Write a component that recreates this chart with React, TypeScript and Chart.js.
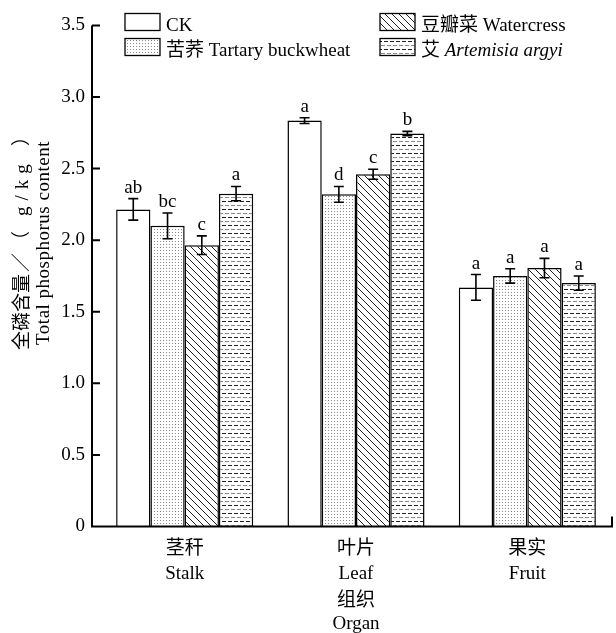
import React, { useEffect, useRef } from 'react';
import { Chart, registerables } from 'chart.js';

Chart.register(...registerables);

const SERIF = "'Liberation Serif', 'Times New Roman', 'Noto Sans CJK SC', serif";

// ---- data ----
const categories = [['茎秆', 'Stalk'], ['叶片', 'Leaf'], ['果实', 'Fruit']];
const seriesNames = ['CK', '苦荞 Tartary buckwheat', '豆瓣菜 Watercress', '艾 Artemisia argyi'];
const ckValues = [2.215, 2.835, 1.67];
const buckwheatValues = [2.1, 2.32, 1.75];
const watercressValues = [1.965, 2.46, 1.805];
const artemisiaValues = [2.325, 2.745, 1.7];
const ckErrors = [0.075, 0.02, 0.09];
const buckwheatErrors = [0.09, 0.055, 0.05];
const watercressErrors = [0.065, 0.035, 0.068];
const artemisiaErrors = [0.05, 0.015, 0.05];
const ckLetters = ['ab', 'a', 'a'];
const buckwheatLetters = ['bc', 'd', 'a'];
const watercressLetters = ['c', 'c', 'a'];
const artemisiaLetters = ['a', 'b', 'a'];
const yTicks = [0, 0.5, 1.0, 1.5, 2.0, 2.5, 3.0, 3.5];
const yTitleParts = ['全磷含量', '／', '（', 'g/kg', '）'];
const yTitleEn = 'Total phosphorus content';
const xTitle = ['组织', 'Organ'];

const seriesValues = [ckValues, buckwheatValues, watercressValues, artemisiaValues];
const seriesErrors = [ckErrors, buckwheatErrors, watercressErrors, artemisiaErrors];
const seriesLetters = [ckLetters, buckwheatLetters, watercressLetters, artemisiaLetters];

function makePattern(kind: string): CanvasPattern | string {
  if (kind === 'white') return '#ffffff';
  const c = document.createElement('canvas');
  let w = 3, h = 3;
  if (kind === 'diag') { w = 7; h = 7; }
  if (kind === 'dash') { w = 6; h = 8; }
  c.width = w; c.height = h;
  const g = c.getContext('2d')!;
  g.fillStyle = '#fff';
  g.fillRect(0, 0, w, h);
  if (kind === 'dots') {
    g.fillStyle = '#8a8a8a';
    g.fillRect(1, 1, 1, 1);
  } else if (kind === 'diag') {
    g.strokeStyle = '#222';
    g.lineWidth = 1;
    for (const k of [-7, 0, 7]) {
      g.beginPath();
      g.moveTo(k, 0);
      g.lineTo(k + 7, 7);
      g.stroke();
    }
  } else if (kind === 'dash') {
    g.fillStyle = '#222';
    g.fillRect(0, 1, 4, 1);
    g.fillStyle = '#888';
    g.fillRect(3, 5, 4, 1);
    g.fillRect(0, 5, 1, 1);
  }
  return g.createPattern(c, 'repeat')!;
}

export default function App() {
  const ref = useRef<HTMLCanvasElement>(null);

  useEffect(() => {
    const canvas = ref.current!;
    const fills = [makePattern('white'), makePattern('dots'), makePattern('diag'), makePattern('dash')];

    const decor = {
      id: 'decor',
      afterDatasetsDraw(chart: any) {
        const ctx = chart.ctx as CanvasRenderingContext2D;
        const ys = chart.scales.y;
        ctx.save();
        ctx.strokeStyle = '#000';
        ctx.fillStyle = '#000';
        ctx.lineWidth = 1.6;
        ctx.font = `19px ${SERIF}`;
        ctx.textAlign = 'center';
        ctx.textBaseline = 'alphabetic';
        seriesValues.forEach((vals, i) => {
          const meta = chart.getDatasetMeta(i);
          meta.data.forEach((el: any, j: number) => {
            const x = el.x;
            const top = ys.getPixelForValue(vals[j] + seriesErrors[i][j]);
            const bot = ys.getPixelForValue(vals[j] - seriesErrors[i][j]);
            ctx.beginPath();
            ctx.moveTo(x, top); ctx.lineTo(x, bot);
            ctx.moveTo(x - 5, top); ctx.lineTo(x + 5, top);
            ctx.moveTo(x - 5, bot); ctx.lineTo(x + 5, bot);
            ctx.stroke();
            ctx.fillText(seriesLetters[i][j], x, top - 6);
          });
        });
        ctx.restore();
      },
      afterDraw(chart: any) {
        const ctx = chart.ctx as CanvasRenderingContext2D;
        const ys = chart.scales.y;
        const area = chart.chartArea;
        const axisX = area.left - 7;
        const y0 = ys.getPixelForValue(0);
        const yTop = ys.getPixelForValue(3.5);
        ctx.save();
        ctx.strokeStyle = '#000';
        ctx.lineWidth = 2;
        ctx.beginPath();
        ctx.moveTo(axisX, yTop); ctx.lineTo(axisX, y0 + 1);
        ctx.moveTo(axisX - 1, y0); ctx.lineTo(area.right - 1, y0);
        ctx.moveTo(area.right - 1, y0 + 1); ctx.lineTo(area.right - 1, y0 - 10);
        ys.ticks.forEach((t: any) => {
          const y = ys.getPixelForValue(t.value);
          ctx.moveTo(axisX, y); ctx.lineTo(axisX + 8, y);
        });
        ctx.stroke();

        // y title (Chinese line, drawn piecewise along the rotated axis)
        ctx.fillStyle = '#000';
        ctx.textBaseline = 'middle';
        ctx.save();
        ctx.translate(23, 350);
        ctx.rotate(-Math.PI / 2);
        ctx.textAlign = 'left';
        ctx.font = `19px ${SERIF}`;
        const offs = [0, 78, 100, 134, 204];
        yTitleParts.forEach((p, k) => {
          (ctx as any).letterSpacing = k === 3 ? '6px' : '0px';
          ctx.fillText(p, offs[k], 0);
        });
        (ctx as any).letterSpacing = '0px';
        ctx.restore();
        ctx.save();
        ctx.translate(44, 243);
        ctx.rotate(-Math.PI / 2);
        ctx.textAlign = 'center';
        ctx.font = `19px ${SERIF}`;
        (ctx as any).letterSpacing = '0.5px';
        ctx.fillText(yTitleEn, 0, 0);
        (ctx as any).letterSpacing = '0px';
        ctx.restore();

        // x title
        ctx.textAlign = 'center';
        const cx = chart.scales.x.getPixelForValue(1);
        ctx.font = `19px ${SERIF}`;
        ctx.fillText(xTitle[0], cx, 601);
        ctx.fillText(xTitle[1], cx, 624);

        // legend
        const boxes = [
          { x: 125, y: 13.5, text: 'CK', italic: '' },
          { x: 125, y: 38.5, text: '苦荞 Tartary buckwheat', italic: '' },
          { x: 380, y: 13.5, text: '豆瓣菜 Watercress', italic: '' },
          { x: 380, y: 38.5, text: '艾 ', italic: 'Artemisia argyi' },
        ];
        boxes.forEach((b, i) => {
          ctx.fillStyle = fills[i] as any;
          ctx.fillRect(b.x, b.y, 35, 17);
          ctx.lineWidth = 1.3;
          ctx.strokeStyle = '#000';
          ctx.strokeRect(b.x, b.y, 35, 17);
          ctx.fillStyle = '#000';
          ctx.textAlign = 'left';
          ctx.textBaseline = 'alphabetic';
          ctx.font = `19px ${SERIF}`;
          const tx = b.x + 41;
          const ty = b.y + 17;
          ctx.fillText(b.text, tx, ty);
          if (b.italic) {
            const w = ctx.measureText(b.text).width;
            ctx.font = `italic 19px ${SERIF}`;
            ctx.fillText(b.italic, tx + w, ty);
          }
        });
        ctx.restore();
      },
    };

    const chart = new Chart(canvas, {
      type: 'bar',
      data: {
        labels: categories,
        datasets: seriesNames.map((name, i) => ({
          label: name,
          data: seriesValues[i],
          backgroundColor: fills[i] as any,
          borderColor: '#000',
          borderWidth: 1.5,
          categoryPercentage: 0.8,
          barPercentage: 1.0,
        })),
      },
      options: {
        responsive: true,
        maintainAspectRatio: false,
        animation: false,
        layout: { padding: { top: 15, right: 3, left: 0, bottom: 0 } },
        plugins: { legend: { display: false }, tooltip: { enabled: false } },
        scales: {
          x: {
            grid: { display: false, drawTicks: false },
            border: { display: false },
            ticks: {
              color: '#000',
              padding: 10,
              font: { family: SERIF, size: 19, lineHeight: 1.32 },
            },
            afterFit: (s: any) => { s.height = 106.5; },
          },
          y: {
            min: 0,
            max: 3.5,
            afterBuildTicks: (s: any) => { s.ticks = yTicks.map((v) => ({ value: v })); },
            grid: { display: false, drawTicks: false },
            border: { display: false },
            ticks: {
              color: '#000',
              padding: 14,
              font: { family: SERIF, size: 19 },
              callback: (v: any) => (Number(v) === 0 ? '0' : Number(v).toFixed(1)),
            },
            afterFit: (s: any) => { s.width = 99; },
          },
        },
      },
      plugins: [decor],
    });
    return () => chart.destroy();
  }, []);

  return (
    <div style={{ position: 'fixed', left: 0, top: 0, width: 616, height: 633, background: '#fff' }}>
      <canvas ref={ref} />
    </div>
  );
}
